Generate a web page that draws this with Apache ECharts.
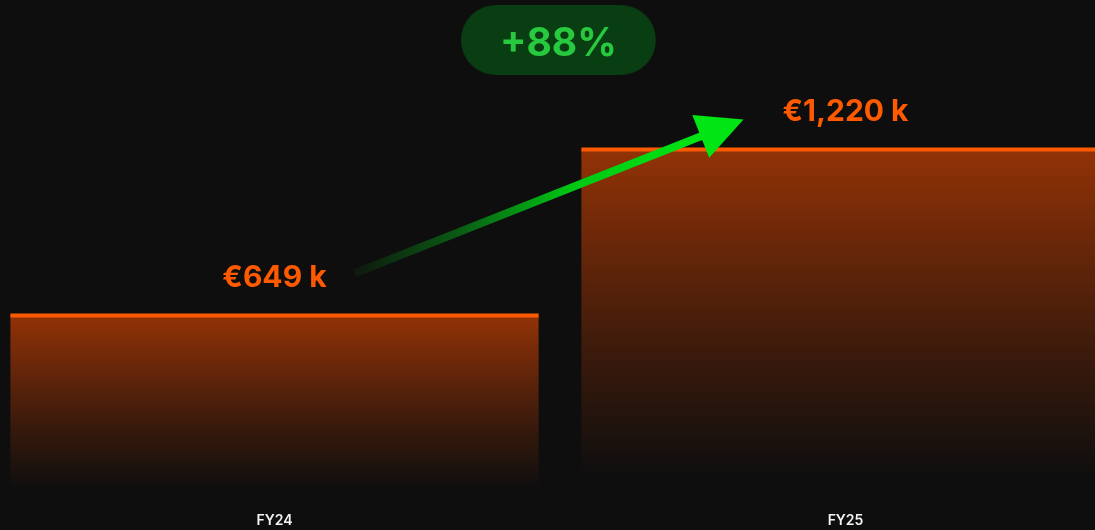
<html>
<head>
<meta charset="UTF-8">
<script src="https://cdn.jsdelivr.net/npm/echarts@6/dist/echarts.min.js"></script>
<style>
html,body{margin:0;padding:0;background:#0e0e0e;overflow:hidden;}
#main{position:absolute;left:-11px;top:0;width:1142px;height:530px;}
</style>
</head>
<body>
<div id="main"></div>
<script>
var categories = ['FY24', 'FY25'];
var revenue = [649, 1220];
var labels = ['€649 k', '€1,220 k'];
var growth = '+88%';

var myChart = echarts.init(document.getElementById('main'));

// custom series needs [categoryIndex, value] pairs
var barData = revenue.map(function (v, i) { return [i, v]; });

var option = {
    backgroundColor: '#0e0e0e',
    animation: false,
    title: {
        text: growth,
        left: 472,
        top: 5,
        backgroundColor: '#093d12',
        borderRadius: 35,
        padding: [16, 39, 8, 39],
        textStyle: {
            color: '#27c93f',
            fontSize: 39,
            fontWeight: 'bold',
            fontFamily: 'Inter',
            lineHeight: 46
        }
    },
    grid: {
        left: 0,
        right: 0,
        top: 39,
        bottom: 26
    },
    xAxis: {
        type: 'category',
        data: categories,
        axisLine: {show: false},
        axisTick: {show: false},
        axisLabel: {
            color: '#f2f2f2',
            fontSize: 14,
            fontFamily: 'Inter',
            fontWeight: 600,
            margin: 10
        }
    },
    yAxis: {
        type: 'value',
        min: 0,
        max: 1600,
        show: false
    },
    series: [{
        type: 'custom',
        data: barData,
        encode: {x: 0, y: 1},
        renderItem: function (params, api) {
            var idx = params.dataIndex;
            var top = api.coord([api.value(0), api.value(1)]);
            var base = api.coord([api.value(0), 0]);
            var w = api.size([1, 0])[0] * 0.925;
            var x0 = top[0] - w / 2;
            return {
                type: 'group',
                children: [{
                    type: 'rect',
                    shape: {x: x0, y: top[1], width: w, height: base[1] - top[1]},
                    style: {
                        fill: new echarts.graphic.LinearGradient(0, 0, 0, 1, [
                            {offset: 0, color: 'rgba(255,80,0,0.55)'},
                            {offset: 0.55, color: 'rgba(255,80,0,0.2)'},
                            {offset: 0.92, color: 'rgba(255,80,0,0)'},
                            {offset: 1, color: 'rgba(255,80,0,0)'}
                        ])
                    }
                }, {
                    type: 'line',
                    shape: {x1: x0, y1: top[1], x2: x0 + w, y2: top[1]},
                    style: {stroke: '#ff5a00', lineWidth: 4}
                }, {
                    type: 'text',
                    style: {
                        text: labels[idx],
                        x: top[0],
                        y: top[1] - 37,
                        align: 'center',
                        verticalAlign: 'middle',
                        fill: '#ff5a00',
                        font: 'bold 30px Inter'
                    }
                }]
            };
        }
    }]
};

myChart.setOption(option);

// growth arrow between the two labels
var p0 = myChart.convertToPixel({seriesIndex: 0}, barData[0]);
var p1 = myChart.convertToPixel({seriesIndex: 0}, barData[1]);
var sx = p0[0] + 80, sy = p0[1] - 42;
var tx = p1[0] - 102, ty = p1[1] - 30;
var dx = tx - sx, dy = ty - sy;
var len = Math.sqrt(dx * dx + dy * dy);
var ux = dx / len, uy = dy / len;
var nx = -uy, ny = ux;
var hl = 46, hw = 23;
var bx = tx - ux * hl, by = ty - uy * hl;

myChart.setOption({
    graphic: [{
        type: 'line',
        z: 100,
        shape: {x1: sx, y1: sy, x2: bx + ux * 4, y2: by + uy * 4},
        style: {
            lineWidth: 8,
            stroke: new echarts.graphic.LinearGradient(0, 0, 1, 0, [
                {offset: 0, color: '#0e170e'},
                {offset: 0.3, color: '#0a5a14'},
                {offset: 0.62, color: '#00c814'},
                {offset: 1, color: '#00e614'}
            ])
        }
    }, {
        type: 'polygon',
        z: 100,
        shape: {points: [[tx, ty], [bx + nx * hw, by + ny * hw], [bx - nx * hw, by - ny * hw]]},
        style: {fill: '#00e614'}
    }]
});
</script>
</body>
</html>
